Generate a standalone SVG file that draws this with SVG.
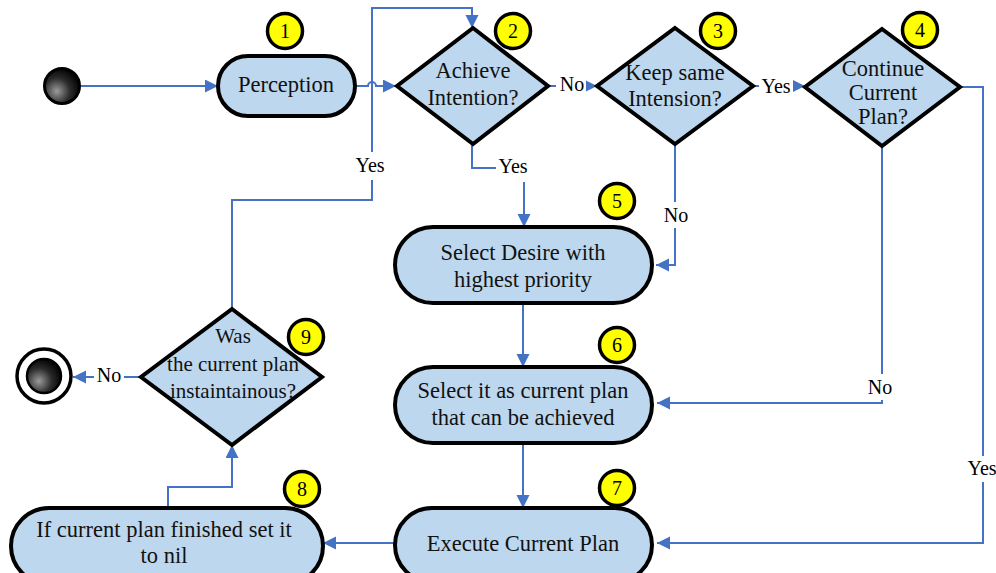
<svg xmlns="http://www.w3.org/2000/svg" width="996" height="573" viewBox="0 0 996 573">
  <style>
    .node { fill: #BDD7EE; stroke: #000; stroke-width: 4; }
    .badge { fill: #FFFF00; stroke: #000; stroke-width: 3.5; }
    .txt { font-family: "Liberation Serif", serif; font-size: 22.5px; fill: #111; text-anchor: middle; }
    .txt-s { font-family: "Liberation Serif", serif; font-size: 21px; fill: #111; text-anchor: middle; }
    .num { font-family: "Liberation Serif", serif; font-size: 20px; fill: #000; text-anchor: middle; }
    .lbl { font-family: "Liberation Serif", serif; font-size: 20px; fill: #000; text-anchor: middle; }
    .conn { fill: none; stroke: #4472C4; stroke-width: 2; }
    .mask { fill: #fff; }
  </style>
  <defs>
    <marker id="arrow" markerUnits="userSpaceOnUse" markerWidth="14" markerHeight="14" refX="13" refY="6.5" orient="auto">
      <path d="M0,0 L13,6.5 L0,13 z" fill="#4472C4"/>
    </marker>
    <radialGradient id="sphere" cx="35%" cy="65%" r="70%">
      <stop offset="0" stop-color="#9a9a9a"/>
      <stop offset="0.55" stop-color="#2a2a2a"/>
      <stop offset="1" stop-color="#000"/>
    </radialGradient>
  </defs>

  <!-- connectors -->
  <g id="connectors">
    <path class="conn" d="M81,86 H218" marker-end="url(#arrow)"/>
    <path class="conn" d="M355,86 H368 a4,4 0 0 1 8,0 H396" marker-end="url(#arrow)"/>
    <path class="conn" d="M548,86 H597" marker-end="url(#arrow)"/>
    <path class="conn" d="M753,86 H805" marker-end="url(#arrow)"/>
    <path class="conn" d="M960,87 H983 V543 H657" marker-end="url(#arrow)"/>
    <path class="conn" d="M882,146 V403 H657" marker-end="url(#arrow)"/>
    <path class="conn" d="M675,144 V265 H656" marker-end="url(#arrow)"/>
    <path class="conn" d="M472,144 V168 H524 V227" marker-end="url(#arrow)"/>
    <path class="conn" d="M523,303 V367" marker-end="url(#arrow)"/>
    <path class="conn" d="M523,443 V508" marker-end="url(#arrow)"/>
    <path class="conn" d="M395,543 H323" marker-end="url(#arrow)"/>
    <path class="conn" d="M168,508 V487 H232 V445" marker-end="url(#arrow)"/>
    <path class="conn" d="M232,309 V200 H372 V8 H472 V28" marker-end="url(#arrow)"/>
    <path class="conn" d="M140,377 H73" marker-end="url(#arrow)"/>

    <!-- connector labels -->
    <rect class="mask" x="556" y="74" width="30" height="22"/>
    <text class="lbl" x="572" y="91">No</text>
    <rect class="mask" x="759" y="74" width="34" height="22"/>
    <text class="lbl" x="776" y="93">Yes</text>
    <rect class="mask" x="964" y="456" width="32" height="26"/>
    <text class="lbl" x="982" y="475">Yes</text>
    <rect class="mask" x="864" y="374" width="32" height="26"/>
    <text class="lbl" x="880" y="394">No</text>
    <rect class="mask" x="660" y="202" width="32" height="26"/>
    <text class="lbl" x="676" y="222">No</text>
    <rect class="mask" x="496" y="156" width="34" height="26"/>
    <text class="lbl" x="513" y="173">Yes</text>
    <rect class="mask" x="352" y="152" width="36" height="28"/>
    <text class="lbl" x="370" y="172">Yes</text>
    <rect class="mask" x="94" y="365" width="30" height="24"/>
    <text class="lbl" x="109" y="382">No</text>
  </g>

  <!-- initial node -->
  <g id="start">
    <circle cx="62" cy="86" r="17.5" fill="url(#sphere)" stroke="#000" stroke-width="3"/>
  </g>

  <!-- final node -->
  <g id="end">
    <circle cx="44" cy="376" r="27" fill="#fff" stroke="#000" stroke-width="3.5"/>
    <circle cx="44" cy="376" r="17" fill="url(#sphere)" stroke="#000" stroke-width="2.5"/>
  </g>

  <!-- 1 Perception -->
  <g id="n1">
    <rect class="node" x="218" y="56" width="137" height="60" rx="30"/>
    <text class="txt" x="286" y="92">Perception</text>
    <circle class="badge" cx="285" cy="31" r="17.5"/>
    <text class="num" x="285" y="38">1</text>
  </g>

  <!-- 2 Achieve Intention? -->
  <g id="n2">
    <polygon class="node" points="473,28 548,86 473,144 397,86"/>
    <text class="txt" x="473" y="78">Achieve</text>
    <text class="txt" x="473" y="105">Intention?</text>
    <circle class="badge" cx="513" cy="31" r="17.5"/>
    <text class="num" x="513" y="38">2</text>
  </g>

  <!-- 3 Keep same Intension? -->
  <g id="n3">
    <polygon class="node" points="675,28 753,86 675,144 597,86"/>
    <text class="txt" x="675" y="80">Keep same</text>
    <text class="txt" x="675" y="106">Intension?</text>
    <circle class="badge" cx="718" cy="31" r="17.5"/>
    <text class="num" x="718" y="38">3</text>
  </g>

  <!-- 4 Continue Current Plan? -->
  <g id="n4">
    <polygon class="node" points="882,29 960,87 882,146 805,87"/>
    <text class="txt" x="883" y="76">Continue</text>
    <text class="txt" x="883" y="100">Current</text>
    <text class="txt" x="883" y="124">Plan?</text>
    <circle class="badge" cx="920" cy="30" r="17.5"/>
    <text class="num" x="920" y="37">4</text>
  </g>

  <!-- 5 Select Desire -->
  <g id="n5">
    <rect class="node" x="395" y="227" width="257" height="76" rx="38"/>
    <text class="txt" x="523" y="260">Select Desire with</text>
    <text class="txt" x="523" y="287">highest priority</text>
    <circle class="badge" cx="617" cy="201" r="17.5"/>
    <text class="num" x="617" y="208">5</text>
  </g>

  <!-- 6 Select current plan -->
  <g id="n6">
    <rect class="node" x="395" y="367" width="257" height="76" rx="38"/>
    <text class="txt" x="523" y="398">Select it as current plan</text>
    <text class="txt" x="523" y="425">that can be achieved</text>
    <circle class="badge" cx="617" cy="345" r="17.5"/>
    <text class="num" x="617" y="352">6</text>
  </g>

  <!-- 7 Execute Current Plan -->
  <g id="n7">
    <rect class="node" x="395" y="508" width="257" height="74" rx="37"/>
    <text class="txt" x="523" y="551">Execute Current Plan</text>
    <circle class="badge" cx="617" cy="488" r="17.5"/>
    <text class="num" x="617" y="495">7</text>
  </g>

  <!-- 8 Finish plan -->
  <g id="n8">
    <rect class="node" x="11" y="508" width="312" height="76" rx="38"/>
    <text class="txt" x="164" y="537">If current plan finished set it</text>
    <text class="txt" x="164" y="563">to nil</text>
    <circle class="badge" cx="302" cy="489" r="17.5"/>
    <text class="num" x="302" y="496">8</text>
  </g>

  <!-- 9 Instantaneous? -->
  <g id="n9">
    <polygon class="node" points="232,309 322,377 232,445 141,377"/>
    <text class="txt-s" x="233" y="343">Was</text>
    <text class="txt-s" x="233" y="371">the current plan</text>
    <text class="txt-s" x="233" y="398">instaintainous?</text>
    <circle class="badge" cx="306" cy="337" r="17.5"/>
    <text class="num" x="306" y="344">9</text>
  </g>
</svg>
